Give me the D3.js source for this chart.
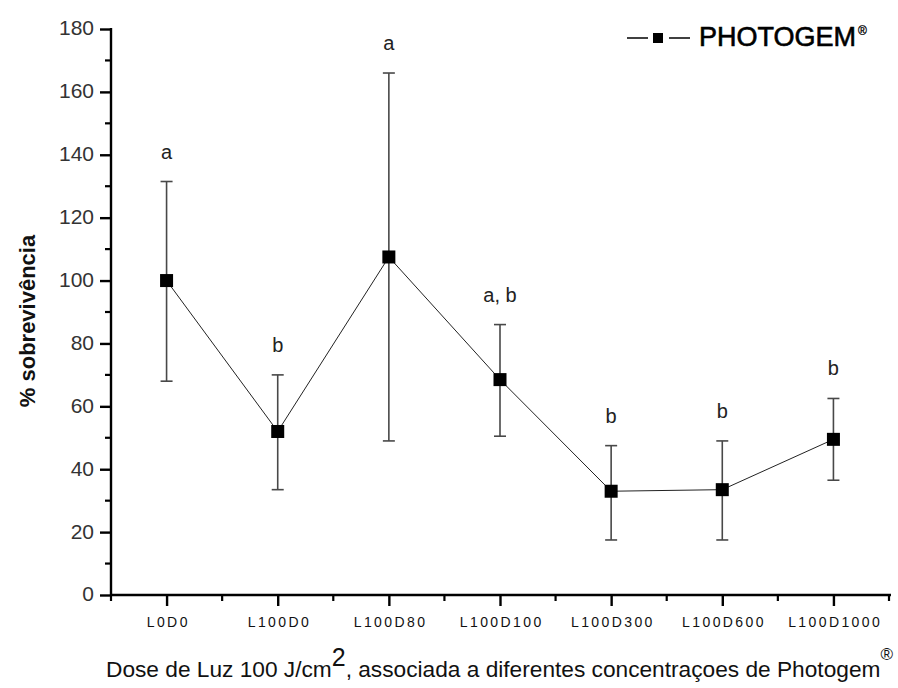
<!DOCTYPE html>
<html><head><meta charset="utf-8">
<script src="https://cdn.jsdelivr.net/npm/d3@7"></script>
<style>body{margin:0;background:#fff}svg{display:block}text{font-family:"Liberation Sans",Arial,sans-serif}</style>
</head><body>
<script>
const categories = ["L0D0","L100D0","L100D80","L100D100","L100D300","L100D600","L100D1000"];
const survival = [100, 52, 107.5, 68.5, 33, 33.5, 49.5];
const errLow = [68, 33.5, 49, 50.5, 17.5, 17.5, 36.5];
const errHigh = [131.5, 70, 166, 86, 47.5, 49, 62.5];
const letters = ["a","b","a","a, b","b","b","b"];
const yTicks = [0,20,40,60,80,100,120,140,160,180];

const W=898,H=688;
const svg=d3.select("body").append("svg").attr("width",W).attr("height",H);
const x=d3.scalePoint().domain(categories).range([111,889]).padding(0.5);
const y=d3.scaleLinear().domain([0,180]).range([595,29]);

const step=x.step();
const minorX=[111, ...categories.map(c=>x(c)+step/2)];
svg.append("g").selectAll("line").data(minorX).join("line")
 .attr("x1",d=>d).attr("x2",d=>d).attr("y1",595).attr("y2",601).attr("stroke","#000").attr("stroke-width",2.2);
const minorY=d3.range(10,180,20);
svg.append("g").selectAll("line").data(minorY).join("line")
 .attr("x1",105).attr("x2",111).attr("y1",d=>y(d)).attr("y2",d=>y(d)).attr("stroke","#000").attr("stroke-width",2.2);

const gx=svg.append("g").attr("transform","translate(0,595)")
 .call(d3.axisBottom(x).tickSize(11).tickSizeOuter(0).tickPadding(11));
gx.select(".domain").attr("d","M110,0H891").attr("stroke-width",2.4);
gx.selectAll(".tick line").attr("stroke-width",2.4);
gx.selectAll("text").attr("font-size",14).attr("letter-spacing","2.4px").attr("dx","1.2").attr("fill","#111");

const gy=svg.append("g").attr("transform","translate(111,0)")
 .call(d3.axisLeft(y).tickValues(yTicks).tickSize(11).tickSizeOuter(0).tickPadding(6));
gy.select(".domain").attr("d","M0,28V596").attr("stroke-width",2.4);
gy.selectAll(".tick line").attr("stroke-width",2.4);
gy.selectAll("text").attr("font-size",21).attr("fill","#333").attr("dy","0.28em");

const eb=svg.append("g").attr("stroke","#484848").attr("stroke-width",1.6);
categories.forEach((c,i)=>{
  eb.append("line").attr("x1",x(c)).attr("x2",x(c)).attr("y1",y(errLow[i])).attr("y2",y(errHigh[i]));
  [errLow[i],errHigh[i]].forEach(v=>eb.append("line").attr("x1",x(c)-6).attr("x2",x(c)+6).attr("y1",y(v)).attr("y2",y(v)));
});

svg.append("path").datum(survival).attr("fill","none").attr("stroke","#222").attr("stroke-width",1)
 .attr("d",d3.line().x((d,i)=>x(categories[i])).y(d=>y(d)));

svg.append("g").selectAll("rect").data(survival).join("rect")
 .attr("x",(d,i)=>x(categories[i])-6.5).attr("y",d=>y(d)-6.5).attr("width",13).attr("height",13).attr("fill","#000");

svg.append("g").selectAll("text").data(letters).join("text")
 .attr("x",(d,i)=>x(categories[i])).attr("y",(d,i)=>y(errHigh[i])-23)
 .attr("text-anchor","middle").attr("font-size",20).attr("fill","#222").text(d=>d);

const lg=svg.append("g");
lg.append("line").attr("x1",627).attr("x2",648).attr("y1",38).attr("y2",38).attr("stroke","#000").attr("stroke-width",1.5);
lg.append("line").attr("x1",669).attr("x2",690).attr("y1",38).attr("y2",38).attr("stroke","#000").attr("stroke-width",1.5);
lg.append("rect").attr("x",653).attr("y",33).attr("width",10).attr("height",10).attr("fill","#000");
const lt=lg.append("text").attr("x",699).attr("y",46).attr("font-size",27).attr("font-weight","normal").attr("stroke","#000").attr("stroke-width",0.6).attr("fill","#000");
lt.append("tspan").text("PHOTOGEM");
lt.append("tspan").attr("font-size",12).attr("stroke-width",0.3).attr("dy",-11).attr("dx",2).text("®");

svg.append("text").attr("transform","translate(35,321) rotate(-90)").attr("text-anchor","middle")
 .attr("font-size",22).attr("font-weight","bold").attr("fill","#111").text("% sobrevivência");
const xt=svg.append("text").attr("x",106).attr("y",677).attr("text-anchor","start").attr("font-size",22.7).attr("fill","#111");
xt.append("tspan").text("Dose de Luz 100 J/cm");
xt.append("tspan").attr("font-size",25).attr("dy",-11).text("2");
xt.append("tspan").attr("dy",11).text(", associada a diferentes concentraçoes de Photogem");
xt.append("tspan").attr("font-size",17).attr("dy",-17).text("®");
</script>
</body></html>
